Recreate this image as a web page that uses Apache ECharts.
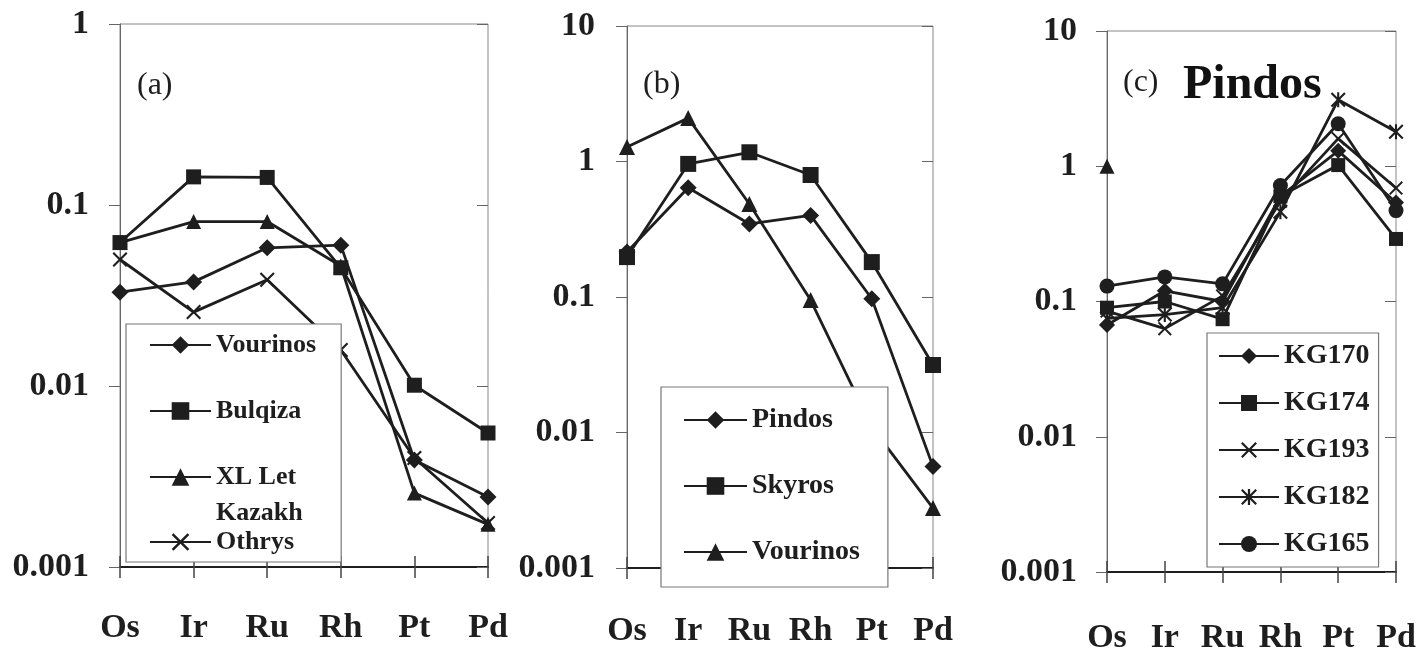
<!DOCTYPE html>
<html>
<head>
<meta charset="utf-8">
<script src="https://cdn.jsdelivr.net/npm/echarts@6/dist/echarts.min.js"></script>
<style>
html, body { margin: 0; padding: 0; background: #fff; }
#main { width: 1421px; height: 655px; }
</style>
</head>
<body>
<div id="main"></div>
<script>
var elements = ['Os', 'Ir', 'Ru', 'Rh', 'Pt', 'Pd'];

// (a)
var vourinosA = [0.033, 0.0376, 0.058, 0.060, 0.0039, 0.00244];
var bulqizaA = [0.062, 0.143, 0.142, 0.045, 0.0101, 0.0055];
var xlLetA = [0.062, 0.081, 0.081, 0.046, 0.00256, 0.00172];
var othrysA = [0.05, 0.0256, 0.0386, 0.0158, 0.0040, 0.00175];

// (b)
var pindosB = [0.215, 0.64, 0.346, 0.40, 0.097, 0.0056];
var skyrosB = [0.197, 0.96, 1.17, 0.795, 0.181, 0.0315];
var vourinosB = [1.28, 2.09, 0.486, 0.095, 0.011, 0.00277];

// (c) Pindos
var kg170 = [0.067, 0.12, 0.1, 0.6, 1.3, 0.54];
var kg174 = [0.09, 0.1, 0.074, 0.6, 1.02, 0.29];
var kg193 = [0.085, 0.063, 0.11, 0.55, 1.6, 0.69];
var kg182 = [0.075, 0.08, 0.09, 0.46, 3.1, 1.8];
var kg165 = [0.13, 0.152, 0.135, 0.72, 2.06, 0.47];
var extraC = [1, null, null, null, null, null];

var myChart = echarts.init(document.getElementById('main'));

var FONT = 'Liberation Serif';
var INK = '#1e1e1e';
var CROSS = 'path://M2,0 L10,8 L18,0 L20,2 L12,10 L20,18 L18,20 L10,12 L2,20 L0,18 L8,10 L0,2 Z';
var STAR = CROSS + ' M8.6,0 L11.4,0 L11.4,20 L8.6,20 Z';

function logLabel(v) {
    var e = Math.round(Math.log(v) / Math.LN10);
    if (e >= 0) return String(Math.pow(10, e));
    return '0.' + new Array(-e).join('0') + '1';
}

var grids = [
    { left: 120, top: 24, width: 368, height: 543 },
    { left: 627, top: 26, width: 306, height: 542 },
    { left: 1107, top: 31, width: 289, height: 548 }
];
grids.forEach(function (g) {
    g.show = true;
    g.borderColor = '#888';
    g.borderWidth = 1;
});

var xAxes = [], yAxes = [];
var yMax = [1, 10, 10];
var xMargin = [44, 46, 49];
var yMargin = [31, 32, 30];
for (var i = 0; i < 3; i++) {
    xAxes.push({
        gridIndex: i, type: 'category', data: elements, boundaryGap: false,
        axisLine: { onZero: false, lineStyle: { color: INK, width: 2 } },
        axisTick: { length: 11, lineStyle: { color: '#444', width: 1.5 } },
        axisLabel: { margin: xMargin[i], fontSize: 34, fontWeight: 'bold', fontFamily: FONT, color: INK }
    });
    xAxes.push({
        gridIndex: i, type: 'category', data: elements, boundaryGap: false, position: 'bottom',
        axisLine: { show: false },
        axisTick: { inside: true, length: 11, lineStyle: { color: '#444', width: 1.5 } },
        axisLabel: { show: false }
    });
    yAxes.push({
        gridIndex: i, type: 'log', logBase: 10, min: 0.001, max: yMax[i],
        axisLine: { show: true, lineStyle: { color: '#666', width: 1 } },
        axisTick: { show: true, length: 11, lineStyle: { color: '#666', width: 1 } },
        axisLabel: { margin: yMargin[i], fontSize: 34, fontWeight: 'bold', fontFamily: FONT, color: INK, formatter: logLabel },
        splitLine: { show: false }
    });
    yAxes.push({
        gridIndex: i, type: 'log', logBase: 10, min: 0.001, max: yMax[i],
        axisLine: { show: false },
        axisTick: { show: true, inside: true, length: 11, lineStyle: { color: '#666', width: 1 } },
        axisLabel: { show: false },
        splitLine: { show: false }
    });
}

function line(panel, name, data, symbol, size) {
    return {
        type: 'line', name: name, data: data,
        xAxisIndex: panel * 2, yAxisIndex: panel * 2,
        symbol: symbol, symbolSize: size, symbolKeepAspect: true,
        connectNulls: false,
        lineStyle: { color: INK, width: 2.8 },
        itemStyle: { color: INK },
        animation: false
    };
}

var series = [
    line(0, 'Vourinos', vourinosA, 'diamond', 17),
    line(0, 'Bulqiza', bulqizaA, 'rect', 15),
    line(0, 'XL Let Kazakh', xlLetA, 'triangle', 15),
    line(0, 'Othrys', othrysA, CROSS, 15),
    line(1, 'Pindos (b)', pindosB, 'diamond', 17),
    line(1, 'Skyros (b)', skyrosB, 'rect', 16),
    line(1, 'Vourinos (b)', vourinosB, 'triangle', 16),
    line(2, 'KG170', kg170, 'diamond', 16),
    line(2, 'KG174', kg174, 'rect', 14),
    line(2, 'KG193', kg193, CROSS, 14),
    line(2, 'KG182', kg182, STAR, 15),
    line(2, 'KG165', kg165, 'circle', 15),
    line(2, 'extra', extraC, 'triangle', 15)
];

function richText(size, extra) {
    var r = { t: { fontSize: size, fontWeight: 'bold', fontFamily: FONT, color: INK, lineHeight: size } };
    if (extra) r.k = { fontSize: size, fontWeight: 'bold', fontFamily: FONT, color: INK, lineHeight: extra };
    return r;
}

var legendBase = {
    orient: 'vertical', selectedMode: false,
    backgroundColor: '#fff', borderColor: '#777', borderWidth: 1.2,
    formatter: function (name) {
        if (name === 'XL Let Kazakh') return '{t|XL Let}\n{k|Kazakh}';
        return '{t|' + name.replace(' (b)', '') + '}';
    }
};

var legends = [
    Object.assign({}, legendBase, {
        left: 126, top: 324, padding: [8, 25, 36, 23], itemGap: 40, itemWidth: 61, itemHeight: 22,
        data: ['Vourinos', 'Bulqiza', { name: 'XL Let Kazakh', textStyle: { height: 26 } }],
        textStyle: { rich: richText(26, 46) }
    }),
    Object.assign({}, legendBase, {
        left: 149, top: 529, padding: 0, itemWidth: 61, itemHeight: 22,
        backgroundColor: 'transparent', borderWidth: 0,
        data: ['Othrys'],
        textStyle: { rich: richText(26) }
    }),
    Object.assign({}, legendBase, {
        left: 661, top: 387, padding: [19, 28, 21, 22], itemGap: 38, itemWidth: 63, itemHeight: 22,
        data: ['Pindos (b)', 'Skyros (b)', 'Vourinos (b)'],
        textStyle: { rich: richText(28) }
    }),
    Object.assign({}, legendBase, {
        left: 1207, top: 333, padding: [9, 9, 9, 11], itemGap: 19, itemWidth: 60, itemHeight: 20,
        data: ['KG170', 'KG174', 'KG193', 'KG182', 'KG165'],
        textStyle: { rich: richText(28) }
    })
];

var titles = [
    { text: '(a)', left: 137, top: 70 },
    { text: '(b)', left: 643, top: 69 },
    { text: '(c)', left: 1123, top: 67 }
].map(function (t) {
    t.padding = 0;
    t.textStyle = { fontSize: 32, fontWeight: 'normal', fontFamily: FONT, color: INK };
    return t;
});
titles.push({
    text: 'Pindos', left: 1183, top: 62, padding: 0,
    textStyle: { fontSize: 48, fontWeight: 'bold', fontFamily: FONT, color: '#111' }
});

myChart.setOption({
    backgroundColor: '#fff',
    animation: false,
    title: titles,
    grid: grids,
    xAxis: xAxes,
    yAxis: yAxes,
    legend: legends,
    series: series
});
</script>
</body>
</html>
